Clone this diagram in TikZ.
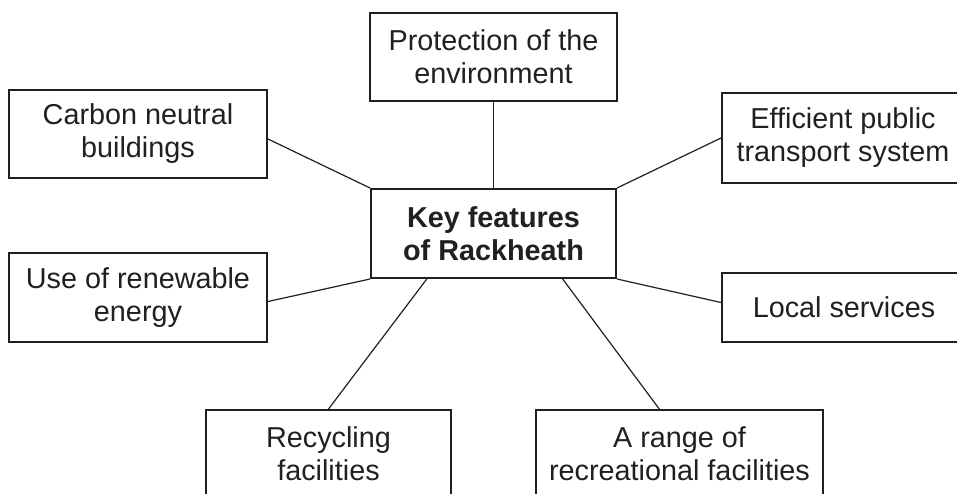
\documentclass[tikz,border=0pt]{standalone}
\usepackage{fontspec}
\setmainfont{Liberation Sans}
\usetikzlibrary{calc}
\definecolor{ink}{HTML}{231F20}
\tikzset{
  feature/.style={draw=ink, text=ink, line width=1pt, align=center, inner sep=0pt,
    minimum height=44pt, font=\fontsize{14.4}{16.5}\selectfont},
  hub/.style={feature, font=\fontsize{14.4}{16.5}\selectfont\bfseries},
  link/.style={draw=ink, line width=.6pt}
}
\begin{document}
\begin{tikzpicture}  % ------ Rackheath : key features --------
      [x=0.5pt, y=-0.5pt]
    \useasboundingbox (0,0) rectangle (957,493);
    \node[hub, minimum width=122.5pt, minimum height=44.5pt] (key) at (493.5,233.5)
        {Key features\\of Rackheath};
    \node[feature, minimum width=123.5pt] (env) at (493.5,57) {Protection of the\\environment};
    \node[feature, minimum width=129pt] (carbon) at (138,134) {Carbon neutral\\buildings};
    \node[feature, minimum width=121pt, minimum height=45pt] (transport) at (843,138)
        {Efficient public\\transport system};
    \node[feature, minimum width=129pt, minimum height=44.5pt] (energy) at (138,297.5)
        {Use of renewable\\energy};
    \node[feature, minimum width=122pt, minimum height=34.5pt] (services) at (844,307.5)
        {Local services};
    \node[feature, minimum width=122.5pt] (recycling) at (328.5,454) {Recycling\\facilities};
    \node[feature, minimum width=143.5pt] (leisure) at (679.5,454)
        {A range of\\recreational facilities};
    % connectors from the hub
    \draw[link] (key.north) -- (env.south);
    \draw[link] (key.north west) -- ([yshift=-2.5pt]carbon.east);
    \draw[link] (key.north east) -- (transport.west);
    \draw[link] (key.south west) -- ([yshift=-2pt]energy.east);
    \draw[link] (key.south east) -- ([yshift=2.5pt]services.west);
    \draw[link] ($(key.south west)!.23!(key.south east)$) -- (recycling.north);
    \draw[link] ($(key.south west)!.78!(key.south east)$)
        -- ($(leisure.north west)!.43!(leisure.north east)$);
\end{tikzpicture}
\end{document}
